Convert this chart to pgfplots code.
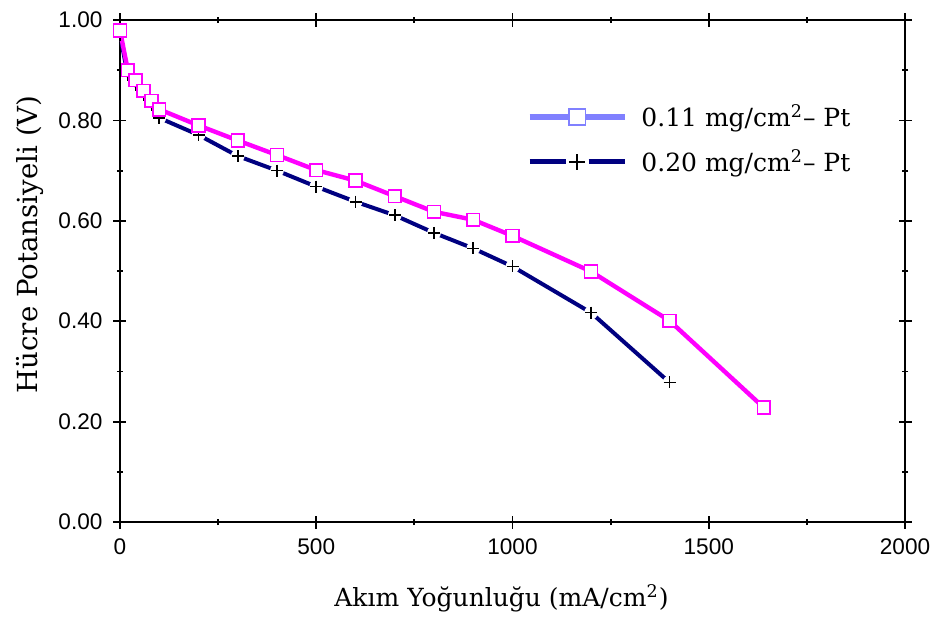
\documentclass[border=0pt]{standalone}
\usepackage{pgfplots}
\pgfplotsset{compat=1.18}
\usepackage{fontspec}
\setmainfont{DejaVu Serif}
\newfontfamily\tickfont{Liberation Sans}

\definecolor{pinkline}{RGB}{255,0,255}
\definecolor{navyline}{RGB}{0,0,128}
\definecolor{legblue}{RGB}{128,128,255}

\begin{document}
\begin{tikzpicture}
  \begin{axis}[
      scale only axis,
      width=392.5pt, height=251pt,
      xmin=0, xmax=2000, ymin=0, ymax=1,
      xtick={0,500,1000,1500,2000},
      ytick={0,0.2,0.4,0.6,0.8,1},
      minor x tick num=1, minor y tick num=1,
      tick align=center,
      major tick length=6.5pt, minor tick length=3pt,
      every tick/.style={black, line width=0.9pt},
      axis line style={line width=1.1pt},
      /pgf/number format/assume math mode=true,
      tick label style={font=\tickfont\fontsize{11.3}{13}\selectfont},
      yticklabel style={/pgf/number format/.cd, fixed, fixed zerofill, precision=2, /tikz/.cd, xshift=-2pt},
      xticklabel style={/pgf/number format/.cd, fixed, set thousands separator={}, /tikz/.cd, yshift=-1.5pt},
      scaled x ticks=false,
      xlabel={Akım Yoğunluğu (mA/cm\textsuperscript{2})},
      ylabel={Hücre Potansiyeli (V)},
      xlabel style={font=\fontsize{12.5}{14}\selectfont, at={(axis description cs:0.486,0)}, anchor=base, yshift=-42pt},
      ylabel style={font=\fontsize{13.8}{15}\selectfont, at={(axis description cs:-0.115,0.553)}, anchor=center},
      legend style={at={(axis description cs:0.518,0.84)}, anchor=north west,
        draw=none, fill=none, font=\fontsize{12.5}{14}\selectfont,
        row sep=6pt, inner sep=0pt},
      legend cell align=left,
    ]
    % 0.20 mg/cm2 series: navy line, gaps at the markers
    \addplot[navyline, line width=2pt, forget plot] coordinates {
      (0,0.97)(20,0.89)(40,0.87)(60,0.85)(80,0.83)(100,0.805)
      (200,0.771)(300,0.729)(400,0.700)(500,0.668)(600,0.638)(700,0.611)
      (800,0.576)(900,0.545)(1000,0.509)(1200,0.417)(1400,0.278)
    };
    \addplot[white, only marks, mark=*, mark size=3.2pt, forget plot] coordinates {
      (100,0.805)(200,0.771)(300,0.729)(400,0.700)(500,0.668)(600,0.638)(700,0.611)
      (800,0.576)(900,0.545)(1000,0.509)(1200,0.417)(1400,0.278)
    };
    \addplot[black, only marks, mark=+, mark size=3pt, mark options={line width=0.8pt}, forget plot] coordinates {
      (0,0.97)(20,0.89)(40,0.87)(60,0.85)(80,0.83)(100,0.805)
      (200,0.771)(300,0.729)(400,0.700)(500,0.668)(600,0.638)(700,0.611)
      (800,0.576)(900,0.545)(1000,0.509)(1200,0.417)(1400,0.278)
    };
    % 0.11 mg/cm2 series
    \addplot[pinkline, line width=2.2pt, mark=square*, mark size=3.2pt,
      mark options={draw=pinkline, fill=white, line width=0.8pt}, forget plot] coordinates {
      (0,0.979)(20,0.900)(40,0.880)(60,0.859)(80,0.839)(100,0.822)
      (200,0.790)(300,0.760)(400,0.731)(500,0.701)(600,0.680)(700,0.649)
      (800,0.618)(900,0.602)(1000,0.570)(1200,0.499)(1400,0.401)(1640,0.228)
    };
    \addlegendimage{legend image code/.code={
        \draw[legblue, line width=2.7pt] (0pt,0pt) -- (47.5pt,0pt);
        \draw[legblue, fill=white, line width=0.8pt] (19.6pt,-4.1pt) rectangle (27.9pt,4.1pt);
      }}
    \addlegendentry{\hspace{5pt}0.11 mg/cm\textsuperscript{2}– Pt}
    \addlegendimage{legend image code/.code={
        \draw[navyline, line width=2.7pt] (0pt,0pt) -- (18pt,0pt);
        \draw[navyline, line width=2.7pt] (29.5pt,0pt) -- (47.5pt,0pt);
        \draw[black, line width=0.8pt] (19.75pt,0pt) -- (27.75pt,0pt) (23.75pt,-4pt) -- (23.75pt,4pt);
      }}
    \addlegendentry{\hspace{5pt}0.20 mg/cm\textsuperscript{2}– Pt}
  \end{axis}
  \pgfresetboundingbox
  \path ([shift={(-60pt,-47.5pt)}]current axis.south west) rectangle ([shift={(12.5pt,10pt)}]current axis.north east);
\end{tikzpicture}
\end{document}
